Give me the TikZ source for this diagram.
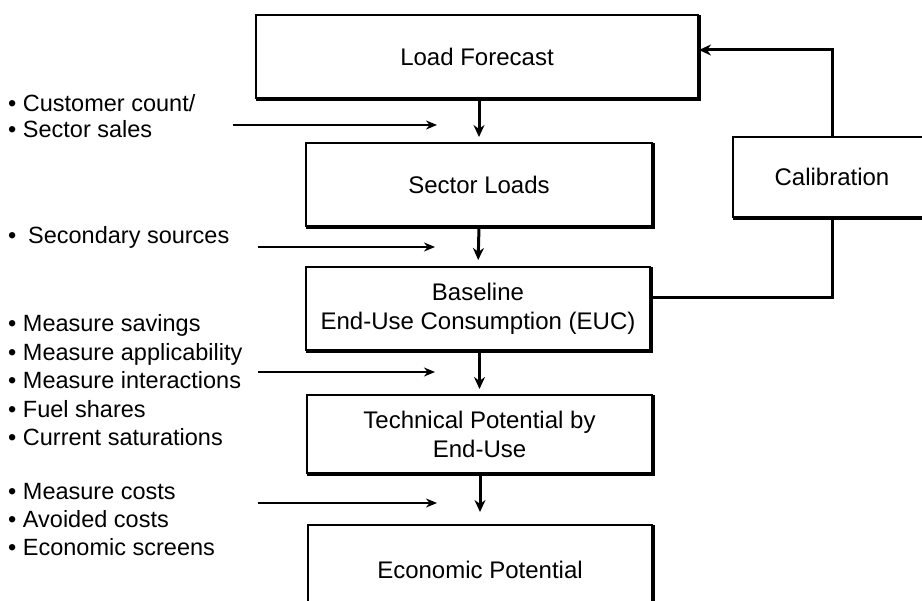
\documentclass[tikz,border=0pt]{standalone}
\usepackage{fontspec}
\setmainfont{Liberation Sans}
\usetikzlibrary{arrows.meta}
\begin{document}
\begin{tikzpicture}[x=1pt,y=-1pt,
  box/.style={draw, line width=2pt, inner sep=0pt, align=center,
    font=\fontsize{24}{29}\selectfont},
  item/.style={anchor=west, inner sep=0pt, text height=17pt, text depth=5pt,
    font=\fontsize{23.5}{28.5}\selectfont},
  flow/.style={line width=3pt, -{Stealth[length=12pt,width=11pt]}},
  feed/.style={line width=2pt, -{Stealth[length=11pt,width=9pt]}},
  loop/.style={line width=3pt},
  shade/.style={line width=2.6pt}]
\useasboundingbox (0,0) rectangle (922,601);
\clip (0,0) rectangle (922,601);
\fill[white] (0,0) rectangle (922,601);

% boxes
\node[box, minimum width=442pt, minimum height=83pt] (lf) at (477,56.5) {Load Forecast};
\node[box, minimum width=346pt, minimum height=83pt] (sl) at (479,184.5) {Sector Loads};
\node[box, minimum width=344pt, minimum height=83pt] (bl) at (478,308.5) {Baseline\\End-Use Consumption (EUC)};
\node[box, minimum width=345pt, minimum height=78pt] (tp) at (479.5,434) {Technical Potential by\\End-Use};
\node[box, minimum width=344pt, minimum height=90pt] (ep) at (480,570) {Economic Potential};
\node[box, minimum width=198pt, minimum height=80pt] (cal) at (832,177) {Calibration};

% shadows on right and bottom edges
\foreach \n in {lf,sl,bl,tp,ep,cal}
  \draw[shade] ([xshift=1pt,yshift=-1pt]\n.north east) -- ([xshift=1pt,yshift=-1pt]\n.south east) -- ([xshift=1pt,yshift=-1pt]\n.south west);

% main flow
\draw[flow, shorten >=5pt] (lf.south -| sl.north) -- (sl.north);
\draw[flow, shorten >=6pt] (sl.south) -- (bl.north);
\draw[flow, shorten >=5pt] (bl.south -| tp.north) -- (tp.north);
\draw[flow, shorten >=12pt] (tp.south -| ep.north) -- (ep.north);

% calibration loop
\coordinate (calup) at (832,50);
\coordinate (caldn) at (832,298);
\draw[loop, -{Stealth[length=12pt,width=11pt]}] (cal.north) -- (calup) -- (calup -| lf.east);
\draw[loop] (cal.south) -- (caldn) -- (caldn -| bl.east);

% input arrows
\coordinate (a1s) at (233,125); \coordinate (a1e) at (437,125);
\coordinate (a2s) at (258,247); \coordinate (a2e) at (435,247);
\coordinate (a3s) at (258,372); \coordinate (a3e) at (435,372);
\coordinate (a4s) at (258,503); \coordinate (a4e) at (437,503);
\draw[feed] (a1s) -- (a1e);
\draw[feed] (a2s) -- (a2e);
\draw[feed] (a3s) -- (a3e);
\draw[feed] (a4s) -- (a4e);

% input lists
\node[item] (t1) at (8,106) {• Customer count/};
\node[item] (t2) at (8,132) {• Sector sales};
\node[item] (t3) at (8,238) {•\enspace Secondary sources};
\node[item] (t4) at (8,326) {• Measure savings};
\node[item] (t5) at (8,354.5) {• Measure applicability};
\node[item] (t6) at (8,383) {• Measure interactions};
\node[item] (t7) at (8,411.5) {• Fuel shares};
\node[item] (t8) at (8,440) {• Current saturations};
\node[item] (t9) at (8,494) {• Measure costs};
\node[item] (t10) at (8,522) {• Avoided costs};
\node[item] (t11) at (8,550) {• Economic screens};
\end{tikzpicture}
\end{document}
